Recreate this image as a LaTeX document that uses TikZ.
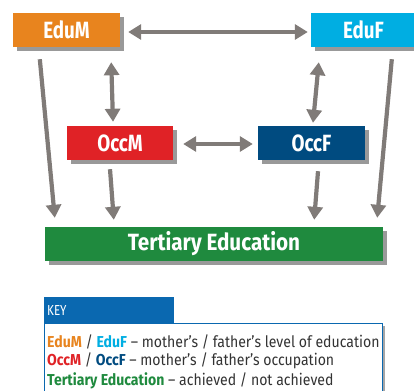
\documentclass[tikz,border=0pt]{standalone}
\usepackage{fontspec}
\setmainfont{Fira Sans}[FakeStretch=0.8]
\usetikzlibrary{arrows.meta,shadows,calc}
\definecolor{cOrange}{HTML}{E8841E}
\definecolor{cCyan}{HTML}{00AEE2}
\definecolor{cRed}{HTML}{E02226}
\definecolor{cNavy}{HTML}{004B80}
\definecolor{cGreen}{HTML}{1F8A3E}
\definecolor{cArrow}{HTML}{807B78}
\definecolor{cKey}{HTML}{0A68B0}
\definecolor{cText}{HTML}{333333}
\tikzset{
  box/.style={draw=none, minimum height=34pt, inner sep=0pt, text=white,
    font=\fontsize{23.5}{25}\selectfont\bfseries,
    drop shadow={shadow xshift=4pt, shadow yshift=-4pt, fill=black!40, opacity=1}},
  arr/.style={draw=cArrow, line width=4.2pt, -{Triangle[width=15pt,length=13pt]}},
  darr/.style={draw=cArrow, line width=4.2pt, {Triangle[width=15pt,length=13pt]}-{Triangle[width=15pt,length=13pt]}},
  keytext/.style={anchor=west, inner sep=0pt, text=cText, font=\fontsize{15.8}{17}\selectfont\addfontfeature{FakeStretch=0.89}},
}
\begin{document}
\begin{tikzpicture}[x=1pt,y=-1pt]
\useasboundingbox (0,0) rectangle (414,390);
\node[box, fill=cOrange, minimum width=107pt] (EduM) at (66.5,30) {EduM};
\node[box, fill=cCyan, minimum width=105pt] (EduF) at (363.5,30) {EduF};
\node[box, fill=cRed, minimum width=106pt] (OccM) at (120,143) {OccM};
\node[box, fill=cNavy, minimum width=107pt] (OccF) at (311.5,143) {OccF};
\node[box, fill=cGreen, minimum width=338pt, font=\fontsize{23.5}{25}\selectfont\bfseries\addfontfeature{FakeStretch=0.88}] (TE) at (214,244) {Tertiary Education};

\draw[darr] ($(EduM.east)+(8,2)$) -- ($(EduF.west)+(-3,2)$);
\draw[darr] ($(EduM.south east)+(-9,15)$) -- ($(OccM.north)+(-7,-4)$);
\draw[darr] ($(EduF.south west)+(8,15)$) -- ($(OccF.north)+(1.5,-3)$);
\draw[darr] ($(OccM.east)+(10,1)$) -- ($(OccF.west)+(-5,1)$);
\draw[arr] ($(OccM.south)+(-10,9)$) -- ($(TE.north west)+(69,-7)$);
\draw[arr] ($(OccF.south)+(6.5,11)$) -- ($(TE.north east)+(-69,-7)$);
\draw[arr] ($(EduM.south west)+(27,12)$) -- ($(TE.north west)+(10,-9)$);
\draw[arr] ($(EduF.south west)+(81,12)$) -- ($(TE.north east)+(-6,-9)$);

% key
\node[fill=black!35, minimum width=338pt, minimum height=72pt, inner sep=0pt] at (216,362) {};
\node[draw=cKey, line width=1pt, fill=white, minimum width=338pt, minimum height=72pt, inner sep=0pt] (keybox) at (213,359) {};
\node[fill=cKey, minimum width=130pt, minimum height=26pt, inner sep=0pt] (keyhead) at (109,310) {};
\node[anchor=west, text=white, font=\fontsize{14.5}{15}\selectfont, inner sep=0pt] (keylbl) at (47,311) {KEY};
\node[keytext] (k1) at (47,342)
  {\textbf{\color{cOrange}EduM} / \textbf{\color{cCyan}EduF} -- mother’s / father’s level of education};
\node[keytext] (k2) at (47,361)
  {\textbf{\color{cRed}OccM} / \textbf{\color{cNavy}OccF} -- mother’s / father’s occupation};
\node[keytext] (k3) at (47,381)
  {\textbf{\color{cGreen}Tertiary Education} -- achieved / not achieved};
\end{tikzpicture}
\end{document}
